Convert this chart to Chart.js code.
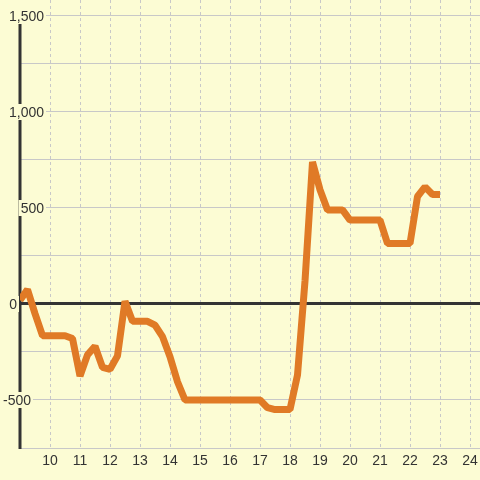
<!DOCTYPE html>
<html>
<head>
<meta charset="utf-8">
<script src="https://cdn.jsdelivr.net/npm/chart.js@4.4.0/dist/chart.umd.min.js"></script>
<style>
  html, body { margin: 0; padding: 0; background: #fcfcd4; }
  canvas { display: block; }
</style>
</head>
<body>
<canvas id="chart" width="480" height="480"></canvas>
<script>
// hours of the day, one reading every quarter hour
const hours = [
  9, 9.25, 9.5, 9.75, 10, 10.25, 10.5, 10.75,
  11, 11.25, 11.5, 11.75, 12, 12.25, 12.5, 12.75,
  13, 13.25, 13.5, 13.75, 14, 14.25, 14.5, 14.75,
  15, 15.25, 15.5, 15.75, 16, 16.25, 16.5, 16.75,
  17, 17.25, 17.5, 17.75, 18, 18.25, 18.5, 18.75,
  19, 19.25, 19.5, 19.75, 20, 20.25, 20.5, 20.75,
  21, 21.25, 21.5, 21.75, 22, 22.25, 22.5, 22.75, 23
]
const values = [
  20, 75, -50, -165, -165, -165, -165, -180,
  -375, -265, -220, -330, -340, -270, 15, -90,
  -90, -90, -110, -170, -275, -405, -500, -500,
  -500, -500, -500, -500, -500, -500, -500, -500,
  -500, -540, -550, -550, -550, -370, 120, 740,
  595, 490, 490, 490, 437, 437, 437, 437,
  437, 315, 315, 315, 315, 560, 610, 570, 570
]
const xTicks = [10, 11, 12, 13, 14, 15, 16, 17, 18, 19, 20, 21, 22, 23, 24]
const yTickValues = [-500, 0, 500, 1000, 1500]
const yTickLabels = ['-500', '0', '500', '1,000', '1,500']

const BG = '#fcfcd4'
const FONT = 'Liberation Sans, Arial, sans-serif'

const axisLabels = { // axis lines and labels by hand: the y labels sit over the plot with a backdrop
  id: 'axisLabels',
  beforeDatasetsDraw(chart) {
    const ctx = chart.ctx
    const y = chart.scales.y
    const area = chart.chartArea
    ctx.save()
    // bottom line
    ctx.strokeStyle = '#c8c8c8'
    ctx.lineWidth = 1
    ctx.beginPath()
    ctx.moveTo(area.left, area.bottom + 0.5)
    ctx.lineTo(area.right, area.bottom + 0.5)
    ctx.stroke()
    // y axis line
    ctx.strokeStyle = '#333333'
    ctx.lineWidth = 3
    ctx.beginPath()
    ctx.moveTo(area.left, y.getPixelForValue(1500))
    ctx.lineTo(area.left, area.bottom + 1)
    ctx.stroke()
    ctx.restore()
  },
  afterDraw(chart) {
    const ctx = chart.ctx
    const x = chart.scales.x
    const y = chart.scales.y
    const area = chart.chartArea
    ctx.save()
    ctx.font = '14px ' + FONT
    ctx.textBaseline = 'middle'

    const rightEdge = { '-500': 31, '0': 17, '500': 44, '1000': 44, '1500': 44 }
    ctx.textAlign = 'right'
    yTickValues.forEach((v, i) => {
      const py = y.getPixelForValue(v)
      const text = yTickLabels[i]
      const w = ctx.measureText(text).width
      const rx = rightEdge[String(v)]
      ctx.fillStyle = BG
      ctx.fillRect(rx - w - 2, py - 8, w + 4, 16)
      ctx.fillStyle = '#333333'
      ctx.fillText(text, rx, py + 1)
    })

    ctx.textAlign = 'center'
    ctx.fillStyle = '#333333'
    xTicks.forEach(v => {
      ctx.fillText(String(v), x.getPixelForValue(v), area.bottom + 13)
    })
    ctx.restore()
  }
}

new Chart(document.getElementById('chart'), {
  type: 'line',
  data: {
    datasets: [{
      data: hours.map((h, i) => ({ x: h, y: values[i] })),
      borderColor: '#e07a26',
      borderWidth: 7,
      borderJoinStyle: 'bevel',
      pointRadius: 0,
      tension: 0,
      fill: false
    }]
  },
  options: {
    responsive: false,
    animation: false,
    layout: { padding: { left: 20, right: 0, top: 0, bottom: 32 } },
    plugins: { legend: { display: false }, tooltip: { enabled: false } },
    scales: {
      x: {
        type: 'linear',
        min: 9,
        max: 24.3333,
        afterBuildTicks: (scale) => {
          scale.ticks = xTicks.map(v => ({ value: v }))
        },
        grid: {
          color: '#c8c8c8',
          lineWidth: 1,
          drawTicks: false
        },
        border: { display: false, dash: [3, 3] },
        ticks: { display: false }
      },
      y: {
        type: 'linear',
        min: -750,
        max: 1583.33,
        afterBuildTicks: (scale) => {
          const t = []
          for (const v of [-750, -500, -250, 0, 250, 500, 750, 1000, 1250, 1500]) t.push({ value: v })
          scale.ticks = t
        },
        grid: {
          drawTicks: false,
          color: (c) => c.tick && c.tick.value === 0 ? '#333333' : '#c8c8c8',
          lineWidth: (c) => c.tick && c.tick.value === 0 ? 3 : 1
        },
        border: { display: false },
        ticks: { display: false }
      }
    }
  },
  plugins: [axisLabels]
})
</script>
</body>
</html>
